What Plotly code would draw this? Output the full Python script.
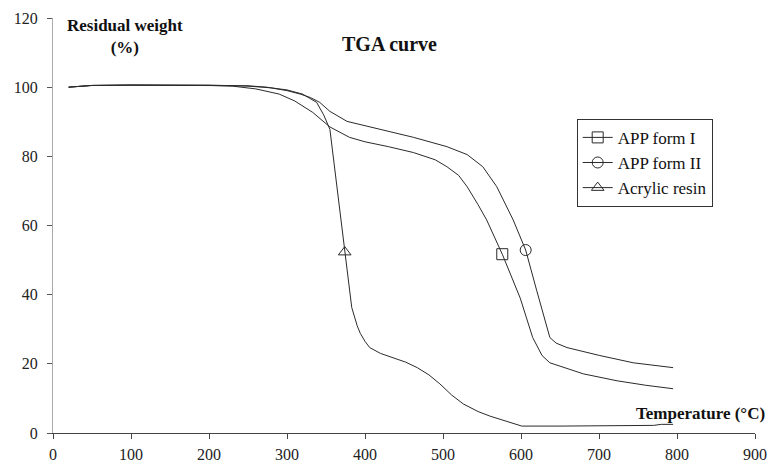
import plotly.graph_objects as go

# ---- data ----
form1_T = [20, 50, 100, 150, 200, 230, 260, 290, 310, 333, 355, 380, 400, 430, 462, 490, 505, 520, 531, 545, 556, 576, 599, 615, 627, 637, 660, 680, 723, 760, 795]
form1_W = [100, 100.5, 100.6, 100.6, 100.5, 100.3, 99.5, 98, 96, 92.7, 88.5, 85.5, 84.2, 82.8, 81.1, 79, 77, 74.5, 71.2, 66, 61.6, 51.7, 39, 27.6, 22.4, 20.3, 18.5, 17.1, 15.1, 13.8, 12.8]

form2_T = [20, 50, 100, 150, 200, 250, 274, 300, 317, 330, 342, 355, 377, 419, 462, 505, 531, 551, 569, 590, 606, 620, 628, 633, 637, 645, 659, 701, 744, 795]
form2_W = [100, 100.5, 100.6, 100.6, 100.6, 100.4, 100, 99, 98, 97, 95.6, 93, 90.1, 87.8, 85.5, 82.8, 80.5, 77, 71.2, 61.6, 52.9, 41.3, 34.6, 30.5, 27.6, 26, 24.7, 22.4, 20.3, 18.9]

resin_T = [20, 50, 100, 150, 200, 250, 280, 300, 320, 338, 347, 355, 365, 374, 383, 390, 394, 400, 406, 420, 436, 452, 467, 482, 496, 511, 526, 545, 560, 580, 601, 650, 700, 750, 770, 780, 795]
resin_W = [100, 100.5, 100.6, 100.6, 100.6, 100.3, 99.8, 99.2, 98, 95.6, 92, 87.8, 69.5, 52.3, 36.3, 31, 28.8, 26.5, 24.7, 23, 21.8, 20.5, 18.9, 16.8, 14.2, 11, 8.4, 6.2, 4.9, 3.4, 2, 2, 2, 2.1, 2.2, 2.5, 2.5]

series_names = ["APP form I", "APP form II", "Acrylic resin"]
marker_T = [576, 606, 374]
marker_W = [51.7, 52.9, 52.3]
symbols = ["square-open", "circle-open", "triangle-up-open"]

x_ticks = [0, 100, 200, 300, 400, 500, 600, 700, 800, 900]
y_ticks = [0, 20, 40, 60, 80, 100, 120]

LINE = "#2a2a2a"
FONT = "Liberation Serif"

fig = go.Figure()
curves = [(form1_T, form1_W), (form2_T, form2_W), (resin_T, resin_W)]
for i, (t, w) in enumerate(curves):
    fig.add_trace(go.Scatter(x=t, y=w, mode="lines", line=dict(color=LINE, width=1),
                             showlegend=False, hoverinfo="skip"))
for i in range(3):
    fig.add_trace(go.Scatter(x=[marker_T[i]], y=[marker_W[i]], mode="lines+markers",
                             name=series_names[i],
                             line=dict(color=LINE, width=1),
                             marker=dict(symbol=symbols[i], size=11, color=LINE,
                                         line=dict(width=1, color=LINE))))

fig.update_layout(
    width=770, height=465,
    margin=dict(l=53, r=15, t=18, b=32, autoexpand=False),
    paper_bgcolor="white", plot_bgcolor="white",
    font=dict(family=FONT, size=16, color="#222"),
    showlegend=True,
    legend=dict(x=0.746, y=0.757, xanchor="left", yanchor="top",
                bordercolor="#333", borderwidth=1, bgcolor="white",
                font=dict(family=FONT, size=17, color="#111"),
                tracegroupgap=0, itemwidth=30),
    xaxis=dict(range=[0, 900], tickvals=x_ticks, ticktext=[str(v) for v in x_ticks],
               automargin=False,
               showgrid=False, zeroline=False, showline=True, linecolor="#444", linewidth=1,
               ticks="outside", ticklen=5, tickcolor="#444", ticklabelstandoff=2,
               tickfont=dict(family=FONT, size=16, color="#222")),
    yaxis=dict(range=[0, 120], tickvals=y_ticks, ticktext=[str(v) for v in y_ticks],
               automargin=False,
               showgrid=False, zeroline=False, showline=True, linecolor="#aaa", linewidth=1,
               ticks="outside", ticklen=5, tickcolor="#555", ticklabelstandoff=6,
               tickfont=dict(family=FONT, size=16, color="#222")),
    annotations=[
        dict(text="<b>TGA curve</b>", x=0.479, y=0.969, xref="paper", yref="paper",
             showarrow=False, font=dict(family=FONT, size=20, color="#111")),
        dict(text="<b>Residual weight<br>(%)</b>", x=0.103, y=1.01, xref="paper", yref="paper",
             xanchor="center", yanchor="top", showarrow=False, align="center",
             font=dict(family=FONT, size=17, color="#111")),
        dict(text="<b>Temperature (°C)</b>", x=1.017, y=0.048, xref="paper", yref="paper",
             xanchor="right", yanchor="middle", showarrow=False,
             font=dict(family=FONT, size=17, color="#111")),
    ],
)

fig.write_html("out.html")
